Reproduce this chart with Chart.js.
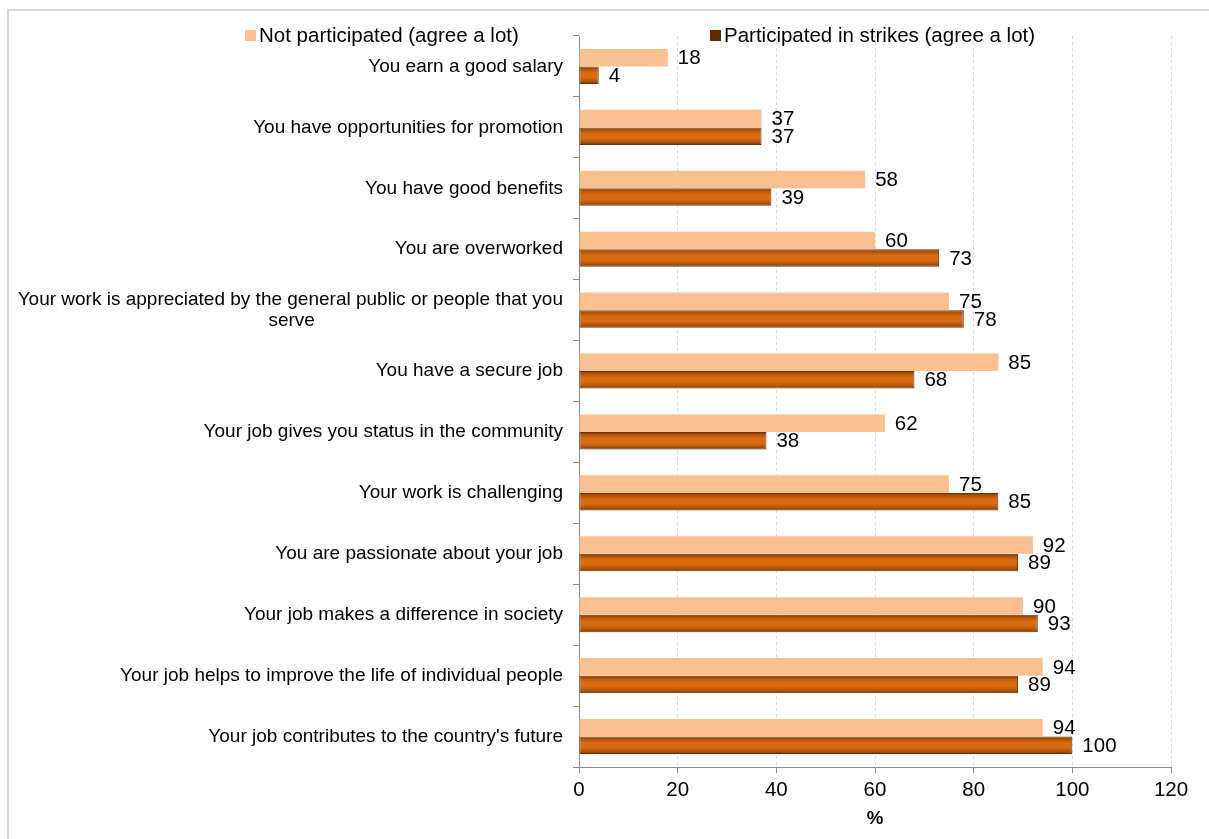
<!DOCTYPE html>
<html>
<head>
<meta charset="utf-8">
<script src="https://cdn.jsdelivr.net/npm/chart.js@4.4.1/dist/chart.umd.min.js"></script>
<style>
  html, body { margin: 0; padding: 0; background: #fff; overflow: hidden; }
  #frame { position: absolute; left: 7px; top: 9px; width: 1300px; height: 900px; border: 2px solid #d9d9d9; box-sizing: border-box; }
  #wrap { position: absolute; left: 0; top: 0; width: 1209px; height: 839px; }
</style>
</head>
<body>
<div id="frame"></div>
<div id="wrap"><canvas id="c"></canvas></div>
<script>
const categories = [
  "You earn a good salary",
  "You have opportunities for promotion",
  "You have good benefits",
  "You are overworked",
  ["Your work is appreciated by the general public or people that you", "serve"],
  "You have a secure job",
  "Your job gives you status in the community",
  "Your work is challenging",
  "You are passionate about your job",
  "Your job makes a difference in society",
  "Your job helps to improve the life of individual people",
  "Your job contributes to the country's future"
];
const notParticipated = [18, 37, 58, 60, 75, 85, 62, 75, 92, 90, 94, 94];
const participated = [4, 37, 39, 73, 78, 68, 38, 85, 89, 93, 89, 100];
const seriesNames = ["Not participated (agree a lot)", "Participated in strikes (agree a lot)"];
const xTicks = [0, 20, 40, 60, 80, 100, 120];

const FONT = '"Liberation Sans", Arial, sans-serif';
const LABEL_SIZE = 19;
const CAT_PCT = 0.575;

// center the second line of multi-line labels under the first (right-aligned layout)
const mctx = document.createElement('canvas').getContext('2d');
mctx.font = LABEL_SIZE + 'px ' + FONT;
const labelsForAxis = categories.map(c => {
  if (!Array.isArray(c)) return c;
  const w1 = mctx.measureText(c[0]).width;
  const w2 = mctx.measureText(c[1]).width;
  const sp = mctx.measureText(' ').width;
  const n = Math.max(0, Math.round(((w1 - w2) / 2) / sp));
  return [c[0], c[1] + ' '.repeat(n)];
});

function darkGradient(context) {
  const chart = context.chart;
  const y = chart.scales && chart.scales.y;
  if (!y || context.dataIndex === undefined) return '#d4640a';
  const center = y.getPixelForValue(context.dataIndex);
  const cat = (y.bottom - y.top) / categories.length;
  const h = cat * CAT_PCT / 2;
  if (!isFinite(center) || !isFinite(h) || h <= 0) return '#d4640a';
  const g = chart.ctx.createLinearGradient(0, center, 0, center + h);
  g.addColorStop(0, '#6e3203');
  g.addColorStop(0.16, '#b55408');
  g.addColorStop(0.36, '#d86a10');
  g.addColorStop(0.64, '#d86a10');
  g.addColorStop(0.84, '#b55408');
  g.addColorStop(1, '#6e3203');
  return g;
}

const overlay = {
  id: 'overlay',
  afterDatasetsDraw(chart) {
    const ctx = chart.ctx;
    ctx.save();
    ctx.font = '20.5px ' + FONT;
    ctx.fillStyle = '#000';
    ctx.textBaseline = 'middle';
    ctx.textAlign = 'left';
    chart.data.datasets.forEach((ds, di) => {
      const meta = chart.getDatasetMeta(di);
      meta.data.forEach((bar, i) => {
        ctx.fillText(String(ds.data[i]), bar.x + 10, bar.y + 1);
      });
    });
    // legend
    const items = [
      { x: 245, color: '#fac090', text: seriesNames[0] },
      { x: 710, color: '#5e2a02', text: seriesNames[1] }
    ];
    items.forEach(it => {
      ctx.fillStyle = it.color;
      ctx.fillRect(it.x, 30, 11, 11);
      ctx.fillStyle = '#000';
      ctx.fillText(it.text, it.x + 14, 36);
    });
    ctx.restore();
  }
};

new Chart(document.getElementById('c'), {
  type: 'bar',
  data: {
    labels: labelsForAxis,
    datasets: [
      {
        label: seriesNames[0],
        data: notParticipated,
        backgroundColor: '#fac090',
        borderWidth: 0,
        barPercentage: 1,
        categoryPercentage: CAT_PCT
      },
      {
        label: seriesNames[1],
        data: participated,
        backgroundColor: darkGradient,
        borderColor: '#6e3203',
        borderWidth: 1,
        borderSkipped: false,
        barPercentage: 1,
        categoryPercentage: CAT_PCT
      }
    ]
  },
  options: {
    indexAxis: 'y',
    responsive: true,
    maintainAspectRatio: false,
    animation: false,
    layout: { padding: { left: 0, top: 36, right: 38, bottom: 0 } },
    plugins: {
      legend: { display: false },
      tooltip: { enabled: false }
    },
    scales: {
      x: {
        min: 0, max: 120,
        afterBuildTicks: s => { s.ticks = xTicks.map(v => ({ value: v })); },
        ticks: { font: { size: 20.5, family: FONT }, color: '#000', padding: 5 },
        grid: { color: '#d9d9d9', tickColor: '#8c8c8c', tickLength: 6, lineWidth: 1 },
        border: { color: '#8c8c8c', dash: [3, 3] },
        title: { display: true, text: '%', color: '#000', font: { size: 18.7, weight: 'bold', family: FONT }, padding: { top: 0, bottom: 9 } },
        afterFit: s => { s.height = 72; }
      },
      y: {
        ticks: { font: { size: LABEL_SIZE, family: FONT, lineHeight: 1.1 }, color: '#000', padding: 10, autoSkip: false },
        grid: { drawOnChartArea: false, tickLength: 6, tickColor: '#8c8c8c', color: '#8c8c8c' },
        border: { color: '#8c8c8c' },
        afterFit: s => { s.width = 579; }
      }
    }
  },
  plugins: [overlay]
});
</script>
</body>
</html>
